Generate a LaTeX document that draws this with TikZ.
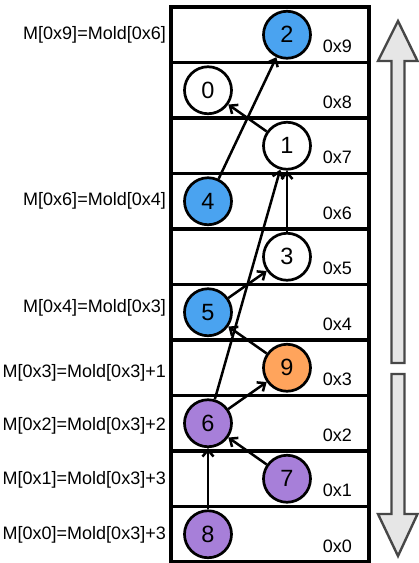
\documentclass[tikz,border=0pt]{standalone}
\usepackage{fontspec}
\setmainfont{Liberation Sans}
\usetikzlibrary{arrows.meta,calc,positioning}
\definecolor{cellBlue}{RGB}{74,163,240}
\definecolor{cellPurple}{RGB}{167,127,217}
\definecolor{cellOrange}{RGB}{255,164,92}
\definecolor{bigGray}{RGB}{230,230,230}

\begin{document}
\begin{tikzpicture}[x=1pt,y=-1pt,
    row/.style={draw,line width=3.2pt,minimum width=198pt,minimum height=55.5pt,inner sep=0pt,outer sep=0pt},
    cell/.style={circle,draw,line width=2.7pt,minimum size=47pt,inner sep=0pt,font=\fontsize{23.5}{24}\selectfont},
    addr/.style={anchor=east,inner sep=0pt,font=\fontsize{18}{18}\selectfont},
    move/.style={anchor=east,inner sep=0pt,font=\fontsize{18}{18}\selectfont},
    link/.style={line width=2.5pt,-{Straight Barb[length=6.5pt,width=11pt]}},
    bigarrow/.style={draw=black!72,line width=2.4pt,fill=bigGray,line join=miter}]

      \useasboundingbox (0,0) rectangle (419,563);

      % cells of the heap, 0x0 at the bottom
      \def\rowH{55.5}
      \foreach \i in {0,...,9}
      \node[row] (r\i) at (270,{534.25-\rowH*\i}) {};

      % the numbers in the cells
      \def\cells{8/-62/cellPurple, 7/17/cellPurple, 6/-62/cellPurple, 9/17/cellOrange,
        5/-62/cellBlue, 3/17/white, 4/-62/cellBlue, 1/17/white, 0/-62/white, 2/17/cellBlue}
      \foreach \n/\dx/\col [count=\i from 0] in \cells
      \node[cell,fill=\col] (c\n) at ($(r\i)+(\dx,0)$) {\n};

      % addresses
      \foreach \i in {0,...,9}
      \node[addr] (a\i) at ($(r\i.south east)+(-17,-16)$) {0x\i};

      % the moves on the left
      \foreach \i/\dy/\txt in {9/0/{M[0x9]=Mold[0x6]}, 6/0/{M[0x6]=Mold[0x4]},
        4/-4/{M[0x4]=Mold[0x3]}, 3/5/{M[0x3]=Mold[0x3]+1}, 2/3/{M[0x2]=Mold[0x3]+2},
        1/1/{M[0x1]=Mold[0x3]+3}, 0/1/{M[0x0]=Mold[0x3]+3}}
      \node[move] (m\i) at ($(r\i.west)+(-5,\dy)$) {\txt};

      % pointers
      \foreach \a/\b in {4/2, 1/0, 3/1, 6/1, 5/3, 9/5, 6/9, 7/6, 8/6}
      \draw[link] (c\a) -- (c\b);

      % the two big arrows
      \draw[bigarrow] (398,21) -- (417.5,61) -- (404.5,61) -- (404.5,363)
        -- (391.5,363) -- (391.5,61) -- (378,61) -- cycle;
      \draw[bigarrow] (398,556) -- (417.5,514) -- (404.5,514) -- (404.5,374)
        -- (391.5,374) -- (391.5,514) -- (378,514) -- cycle;

\end{tikzpicture}
\end{document}
